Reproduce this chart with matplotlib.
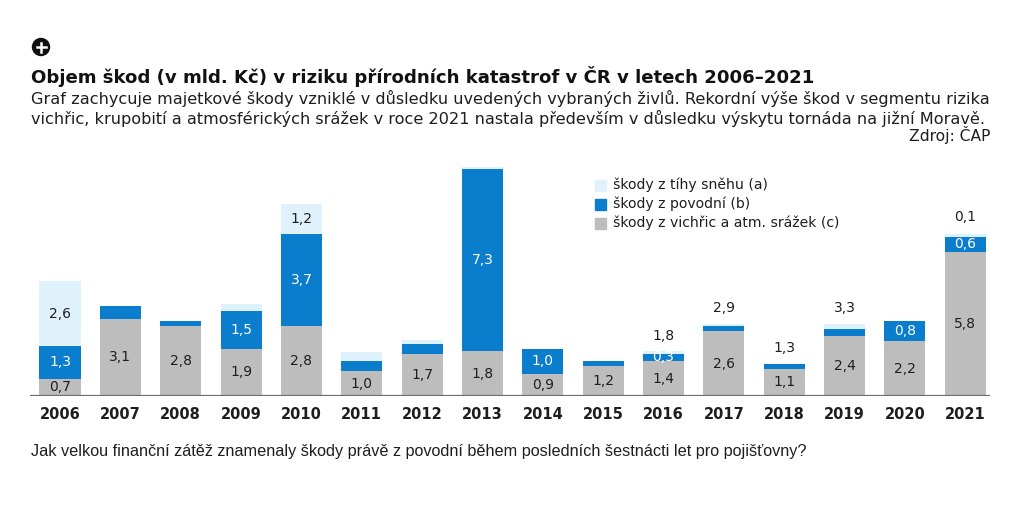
import matplotlib
matplotlib.use("Agg")
import matplotlib.pyplot as plt
from matplotlib.patches import Circle, Rectangle
from matplotlib.transforms import IdentityTransform
import numpy as np

plt.rcParams['font.family'] = ['DejaVu Sans']

years = ["2006", "2007", "2008", "2009", "2010", "2011", "2012", "2013",
         "2014", "2015", "2016", "2017", "2018", "2019", "2020", "2021"]
# c: vichřice a atm. srážky, b: povodně, a: tíha sněhu (mld. Kč)
storm = [0.7, 3.1, 2.8, 1.9, 2.8, 1.0, 1.7, 1.8, 0.9, 1.2, 1.4, 2.6, 1.1, 2.4, 2.2, 5.8]
flood = [1.3, 0.5, 0.2, 1.5, 3.7, 0.4, 0.4, 7.3, 1.0, 0.2, 0.3, 0.2, 0.2, 0.3, 0.8, 0.6]
snow = [2.6, 0.0, 0.0, 0.3, 1.2, 0.35, 0.15, 0.1, 0.0, 0.0, 0.1, 0.1, 0.0, 0.2, 0.0, 0.1]
# which values carry a label
flood_labeled = [True, False, False, True, True, False, False, True,
                 True, False, True, False, False, False, True, True]
snow_labeled_inside = [True, False, False, False, True, False, False, False,
                       False, False, False, False, False, False, False, False]
snow_labeled_above = [False] * 15 + [True]
total_labels = {"2016": "1,8", "2017": "2,9", "2018": "1,3", "2019": "3,3"}

legend_labels = ["škody z tíhy sněhu (a)", "škody z povodní (b)",
                 "škody z vichřic a atm. srážek (c)"]

title = "Objem škod (v mld. Kč) v riziku přírodních katastrof v ČR v letech 2006–2021"
subtitle1 = ("Graf zachycuje majetkové škody vzniklé v důsledku uvedených vybraných živlů. "
             "Rekordní výše škod v segmentu rizika")
subtitle2 = ("vichřic, krupobití a atmosférických srážek v roce 2021 nastala především "
             "v důsledku výskytu tornáda na jižní Moravě.")
source = "Zdroj: ČAP"
question = ("Jak velkou finanční zátěž znamenaly škody právě z povodní během posledních "
            "šestnácti let pro pojišťovny?")

C_SNOW = "#DFF1FB"
C_FLOOD = "#0B7DCD"
C_STORM = "#BDBDBD"
TXT = "#1e1e1e"

W, H = 1024, 527
fig = plt.figure(figsize=(W / 100, H / 100), dpi=100)

def fx(px):
    return px / W

def fy(py):
    return 1 - py / H

# axes: x 30..990 px, y 396 (baseline) .. 160 px
ax = fig.add_axes([fx(30), fy(396), fx(990 - 30), (396 - 160) / H])
ppu = 24.9
ax.set_ylim(0, 236 / ppu)
step = 60.35
ax.set_xlim((30 - 60) / step, (990 - 60) / step)
for s in ax.spines.values():
    s.set_visible(False)
ax.set_xticks([])
ax.set_yticks([])
ax.axhline(0, color="#6e6e6e", lw=1.6, zorder=5)

x = np.arange(len(years))
storm_a = np.array(storm)
flood_a = np.array(flood)
snow_a = np.array(snow)
bw = 0.68
ax.bar(x, storm_a, bw, color=C_STORM, zorder=2)
ax.bar(x, flood_a, bw, bottom=storm_a, color=C_FLOOD, zorder=2)
ax.bar(x, snow_a, bw, bottom=storm_a + flood_a, color=C_SNOW, zorder=2)

def fmt(v):
    return f"{v:.1f}".replace(".", ",")

fs = 10
for i in range(len(years)):
    ax.text(x[i], storm_a[i] / 2, fmt(storm_a[i]), ha="center", va="center",
            fontsize=fs, color=TXT, zorder=6)
    if flood_labeled[i]:
        ax.text(x[i], storm_a[i] + flood_a[i] / 2, fmt(flood_a[i]), ha="center",
                va="center", fontsize=fs, color="white", zorder=6)
    top = storm_a[i] + flood_a[i] + snow_a[i]
    if snow_labeled_inside[i]:
        ax.text(x[i], storm_a[i] + flood_a[i] + snow_a[i] / 2, fmt(snow_a[i]),
                ha="center", va="center", fontsize=fs, color=TXT, zorder=6)
    if snow_labeled_above[i]:
        ax.annotate(fmt(snow_a[i]), (x[i], top), xytext=(0, 7),
                    textcoords="offset points", ha="center", va="bottom",
                    fontsize=fs, color=TXT)
    if years[i] in total_labels:
        ax.annotate(total_labels[years[i]], (x[i], top), xytext=(0, 6),
                    textcoords="offset points", ha="center", va="bottom",
                    fontsize=fs, color=TXT)
    ax.annotate(years[i], (x[i], 0), xytext=(0, -13), textcoords="offset points",
                ha="center", va="center", fontsize=10.5, fontweight="bold",
                color=TXT, annotation_clip=False)

# legend
leg_colors = [C_SNOW, C_FLOOD, C_STORM]
leg_y = [185, 204, 223]
for c, lab, yy in zip(leg_colors, legend_labels, leg_y):
    fig.patches.append(Rectangle((595, H - yy - 5.5), 11, 11,
                                 transform=IdentityTransform(), color=c))
    fig.text(fx(613), fy(yy), lab, ha="left", va="center", fontsize=10.1, color=TXT)

# icon
fig.patches.append(Circle((41, H - 47), 8.5, transform=IdentityTransform(),
                          color="#111111"))
fig.lines.append(plt.Line2D([41 - 4.5, 41 + 4.5], [H - 47, H - 47], color="white",
                            lw=1.8, transform=IdentityTransform()))
fig.lines.append(plt.Line2D([41, 41], [H - 47 - 4.5, H - 47 + 4.5], color="white",
                            lw=1.8, transform=IdentityTransform()))

# texts
fig.text(fx(31), fy(83), title, ha="left", va="baseline", fontsize=13.05,
         fontweight="bold", color="#111111")
fig.text(fx(31), fy(104), subtitle1, ha="left", va="baseline", fontsize=11.6, color=TXT)
fig.text(fx(31), fy(124), subtitle2, ha="left", va="baseline", fontsize=11.6, color=TXT)
fig.text(fx(990), fy(141), source, ha="right", va="baseline", fontsize=11.2, color=TXT)
fig.text(fx(31), fy(456), question, ha="left", va="baseline", fontsize=11.7,
         color=TXT, family="Liberation Sans")

fig.savefig("out.png", dpi=100, facecolor="white")
